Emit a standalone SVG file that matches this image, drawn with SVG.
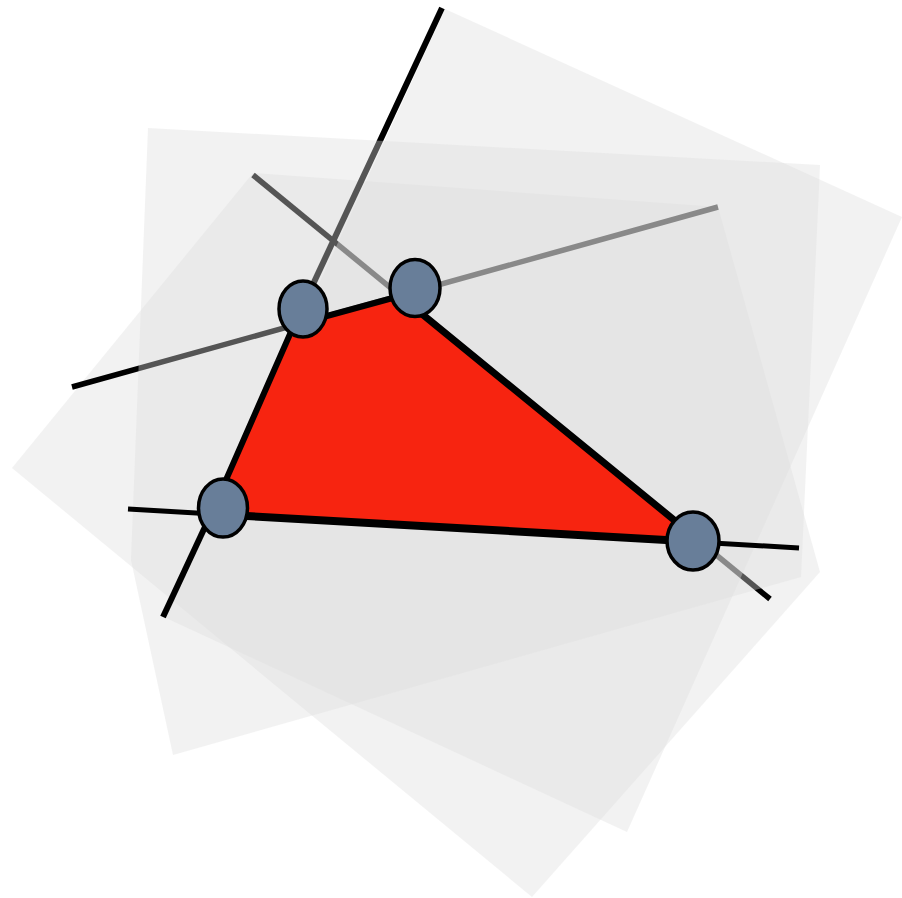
<svg xmlns="http://www.w3.org/2000/svg" width="902" height="898" viewBox="0 0 902 898">
  <style>
    .plane { fill: #dddddd; fill-opacity: 0.384; stroke: none; }
    .ln { stroke: #000; fill: none; stroke-linecap: butt; }
    .edge { stroke: #000; fill: none; stroke-linecap: round; }
    .vtx { fill: #687e99; stroke: #000; stroke-width: 3.5; }
  </style>
  <rect x="0" y="0" width="902" height="898" fill="#ffffff"/>
  <g id="plane-c">
    <polygon class="plane" points="12,468 253,173 718,207 820,572 532,897"/>
  </g>
  <g id="connectors-under">
    <line class="ln" x1="442" y1="8" x2="294" y2="325" stroke-width="6"/>
    <line class="ln" x1="253" y1="175" x2="770" y2="599" stroke-width="5.5"/>
    <line class="ln" x1="72" y1="387" x2="718" y2="207" stroke-width="5.5"/>
  </g>
  <g id="plane-a">
    <polygon class="plane" points="445,9 902,217 627,832 166,618"/>
  </g>
  <g id="plane-b">
    <polygon class="plane" points="148,128 820,165 801,577 173,755 131,560"/>
  </g>
  <g id="polygon">
    <polygon points="294,325 400,296 701,542 211,514" fill="#f72410"/>
  </g>
  <g id="connectors-over">
    <line class="ln" x1="128" y1="509" x2="799" y2="548" stroke-width="5"/>
    <line class="ln" x1="211" y1="514" x2="163" y2="617" stroke-width="6"/>
  </g>
  <g id="polygon-edges">
    <line class="edge" x1="294" y1="325" x2="400" y2="296" stroke-width="6"/>
    <line class="edge" x1="400" y1="296" x2="701" y2="542" stroke-width="7"/>
    <line class="edge" x1="701" y1="542" x2="211" y2="514" stroke-width="8"/>
    <line class="edge" x1="211" y1="514" x2="294" y2="325" stroke-width="6"/>
  </g>
  <g id="vertex-1"><ellipse class="vtx" cx="303" cy="309" rx="24" ry="28"/></g>
  <g id="vertex-2"><ellipse class="vtx" cx="415" cy="288" rx="25" ry="28.5"/></g>
  <g id="vertex-3"><ellipse class="vtx" cx="223" cy="508" rx="24.5" ry="29"/></g>
  <g id="vertex-4"><ellipse class="vtx" cx="693" cy="541" rx="26" ry="29"/></g>
</svg>
